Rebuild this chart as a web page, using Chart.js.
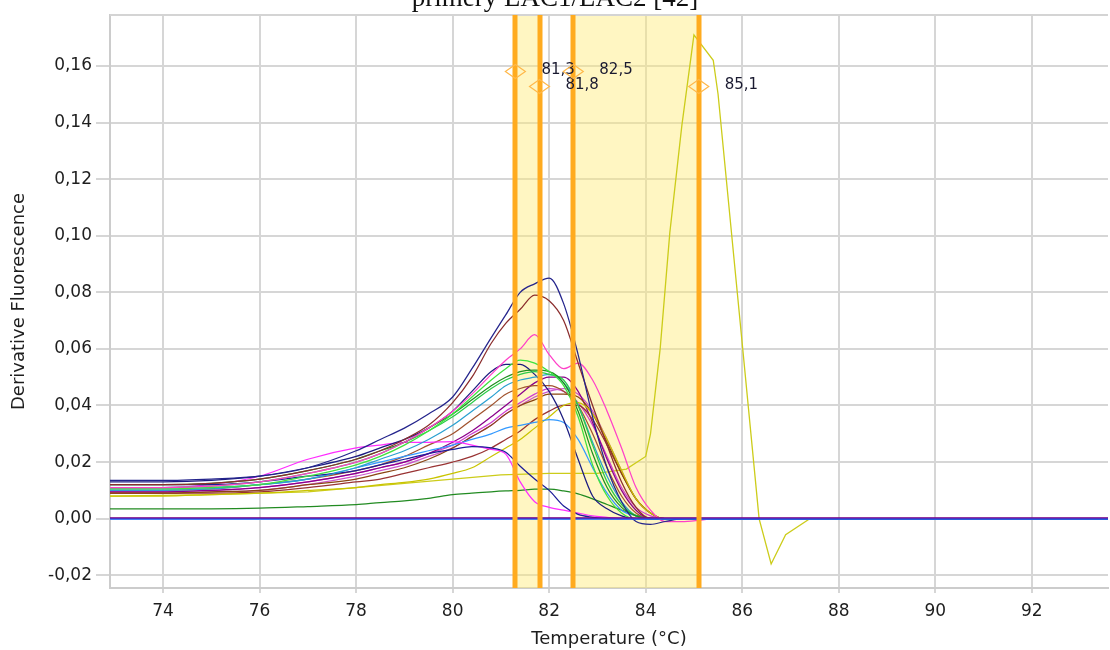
<!DOCTYPE html>
<html>
<head>
<meta charset="utf-8">
<script src="https://cdn.jsdelivr.net/npm/chart.js@4.4.1/dist/chart.umd.min.js"></script>
<style>
  html, body { margin: 0; padding: 0; background: #ffffff; }
  #wrap { width: 1110px; height: 650px; position: relative; }
</style>
</head>
<body>
<div id="wrap"><canvas id="c" width="1110" height="650"></canvas></div>
<script>
// ---------------- DATA ----------------
const chartTitle = "primery LAC1/LAC2 [42]";
const xTitle = "Temperature (°C)";
const yTitle = "Derivative Fluorescence";
const xTicks = [74, 76, 78, 80, 82, 84, 86, 88, 90, 92];
const yTicks = [-0.02, 0, 0.02, 0.04, 0.06, 0.08, 0.10, 0.12, 0.14, 0.16];

const temps = [72.9, 74, 75, 76, 77, 78, 78.5, 79, 79.5, 80, 80.4, 80.8, 81.1, 81.4, 81.7, 82.0, 82.3, 82.6, 82.9, 83.2, 83.5, 83.8, 84.1, 84.4, 84.8, 85.5, 87, 89, 91, 93.6];

const purpleZero = [0.0003,0.0003,0.0003,0.0003,0.0003,0.0003,0.0003,0.0003,0.0003,0.0003,0.0003,0.0003,0.0003,0.0003,0.0003,0.0003,0.0003,0.0003,0.0003,0.0003,0.0003,0.0003,0.0003,0.0003,0.0003,0.0003,0.0003,0.0003,0.0003,0.0003];
const blueZero   = [0,0,0,0,0,0,0,0,0,0,0,0,0,0,0,0,0,0,0,0,0,0,0,0,0,0,0,0,0,0];
const navyTall   = [0.0135,0.0135,0.014,0.015,0.018,0.024,0.028,0.032,0.037,0.043,0.053,0.064,0.072,0.080,0.083,0.085,0.076,0.058,0.036,0.018,0.006,-0.001,-0.002,-0.001,0,0,0,0,0,0];
const brownTall  = [0.012,0.012,0.0125,0.014,0.017,0.021,0.024,0.028,0.033,0.041,0.050,0.062,0.069,0.074,0.079,0.077,0.070,0.055,0.040,0.026,0.013,0.004,0,0,0,0,0,0,0,0];
const pinkTall   = [0.011,0.011,0.0115,0.013,0.016,0.020,0.023,0.027,0.032,0.038,0.044,0.051,0.056,0.060,0.065,0.058,0.053,0.055,0.049,0.038,0.025,0.011,0.003,-0.001,-0.001,0,0,0,0,0];
const limeGreen  = [0.0105,0.0105,0.011,0.012,0.015,0.019,0.022,0.026,0.031,0.037,0.043,0.049,0.053,0.056,0.055,0.052,0.047,0.036,0.019,0.008,0.002,0,0,0,0,0,0,0,0,0];
const greenA     = [0.012,0.012,0.0125,0.014,0.017,0.021,0.024,0.027,0.032,0.037,0.042,0.047,0.050,0.052,0.0525,0.052,0.048,0.038,0.023,0.011,0.004,0.001,0,0,0,0,0,0,0,0];
const greenB     = [0.011,0.011,0.0115,0.013,0.016,0.020,0.023,0.027,0.031,0.036,0.041,0.046,0.049,0.051,0.052,0.051,0.049,0.040,0.026,0.013,0.005,0.001,0,0,0,0,0,0,0,0];
const tealBlue   = [0.010,0.010,0.0105,0.012,0.014,0.018,0.021,0.024,0.028,0.033,0.038,0.043,0.047,0.049,0.050,0.051,0.048,0.040,0.027,0.015,0.006,0.001,0,0,0,0,0,0,0,0];
const navyMid    = [0.013,0.013,0.0135,0.015,0.018,0.022,0.025,0.028,0.032,0.038,0.045,0.052,0.0545,0.0545,0.051,0.045,0.035,0.021,0.008,0.0035,0.001,0,0,0,0,0,0,0,0,0];
const navyLow    = [0.012,0.012,0.012,0.013,0.015,0.017,0.019,0.021,0.023,0.0245,0.0255,0.025,0.0235,0.0185,0.014,0.010,0.0045,0.0015,0.0005,0,0,0,0,0,0,0,0,0,0,0];
const magentaLow = [0.011,0.011,0.012,0.015,0.021,0.025,0.026,0.027,0.027,0.0272,0.026,0.0245,0.0228,0.013,0.006,0.004,0.003,0.002,0.001,0.0005,0,0,0,0,0,0,0,0,0,0];
const skyBlue    = [0.0105,0.0105,0.011,0.012,0.014,0.018,0.020,0.022,0.024,0.026,0.028,0.030,0.032,0.033,0.034,0.035,0.034,0.028,0.018,0.009,0.003,0.001,0,0,0,0,0,0,0,0];
const oliveRise  = [0.008,0.008,0.0085,0.009,0.010,0.011,0.012,0.0128,0.014,0.016,0.018,0.022,0.025,0.028,0.032,0.036,0.040,0.041,0.037,0.028,0.017,0.007,0.002,0,0,0,0,0,0,0];
const siennaMid  = [0.010,0.010,0.0105,0.012,0.014,0.017,0.019,0.022,0.026,0.030,0.035,0.040,0.044,0.046,0.047,0.047,0.045,0.040,0.030,0.018,0.008,0.002,0,0,0,0,0,0,0,0];
const brownLate  = [0.009,0.009,0.0095,0.010,0.012,0.014,0.016,0.018,0.021,0.025,0.029,0.033,0.037,0.040,0.042,0.044,0.044,0.043,0.037,0.027,0.016,0.007,0.002,0,0,0,0,0,0,0];
const brownLow   = [0.009,0.009,0.009,0.0095,0.011,0.013,0.014,0.016,0.018,0.020,0.022,0.025,0.028,0.031,0.035,0.038,0.040,0.040,0.035,0.026,0.016,0.007,0.002,0,0,0,0,0,0,0];
const purpleMid  = [0.0095,0.0095,0.010,0.011,0.013,0.016,0.018,0.020,0.023,0.027,0.031,0.036,0.040,0.044,0.048,0.050,0.050,0.045,0.034,0.021,0.010,0.003,0,0,0,0,0,0,0,0];
const orchidMid  = [0.009,0.009,0.0095,0.010,0.012,0.015,0.017,0.019,0.022,0.025,0.029,0.033,0.037,0.040,0.043,0.045,0.046,0.044,0.038,0.028,0.017,0.007,0.002,0,0,0,0,0,0,0];
const violetMid  = [0.0095,0.0095,0.010,0.011,0.013,0.016,0.018,0.020,0.023,0.026,0.030,0.034,0.038,0.041,0.044,0.046,0.045,0.041,0.033,0.022,0.011,0.004,0.001,0,0,0,0,0,0,0];
const greenLow   = [0.0035,0.0035,0.0035,0.0037,0.0043,0.005,0.0057,0.0063,0.0072,0.0085,0.009,0.0095,0.0098,0.010,0.0104,0.0104,0.0098,0.0088,0.007,0.005,0.003,0.0012,0.0003,0,0,0,0,0,0,0];

// the single tall yellow product peak (own temperature grid)
const peakTemps = [72.9, 75, 77, 78, 79, 80, 81, 82, 83, 83.6, 84.0, 84.1, 84.3, 84.5, 84.75, 85.0, 85.4, 85.5, 86.0, 86.35, 86.6, 86.9, 87.4];
const peakVals  = [0.008,0.0085,0.0095,0.011,0.0125,0.014,0.0155,0.016,0.016,0.0175,0.022,0.030,0.060,0.101,0.139,0.171,0.162,0.150,0.062,0.000,-0.016,-0.0057,0];

// Tm markers (temperature, marker level)
const markerTemps  = [81.3, 81.8, 82.5, 85.1];
const markerLevels = [0.158, 0.1527, 0.158, 0.1527];

// ---------------- STYLE ----------------
const seriesDefs = [
  [purpleZero, '#800080'],
  [blueZero,   '#1460ff'],
  [navyTall,   '#24248c'],
  [brownTall,  '#8b2d2d'],
  [pinkTall,   '#ff40c8'],
  [limeGreen,  '#3ee23e'],
  [greenA,     '#1f8f1f'],
  [greenB,     '#2ccc48'],
  [tealBlue,   '#2aa0d0'],
  [navyMid,    '#1c1c80'],
  [navyLow,    '#1c1c9a'],
  [magentaLow, '#ff2cff'],
  [skyBlue,    '#3399ff'],
  [oliveRise,  '#c9c400'],
  [siennaMid,  '#a0522d'],
  [brownLate,  '#8b4513'],
  [brownLow,   '#993333'],
  [purpleMid,  '#8b008b'],
  [orchidMid,  '#cc55cc'],
  [violetMid,  '#d040d0'],
  [greenLow,   '#228b22']
];

const datasets = seriesDefs.map(([vals, col]) => ({
  data: temps.map((t, i) => ({ x: t, y: vals[i] })),
  borderColor: col,
  borderWidth: (vals === blueZero) ? 2 : 1.25,
  pointRadius: 0,
  fill: false,
  cubicInterpolationMode: 'monotone',
  tension: 0.4
}));
datasets.push({
  data: peakTemps.map((t, i) => ({ x: t, y: peakVals[i] })),
  borderColor: '#cccc1a',
  borderWidth: 1.3,
  pointRadius: 0,
  fill: false,
  tension: 0
});

const fontFam = '"DejaVu Sans", Verdana, sans-serif';
const fmtTemp = v => v.toFixed(1).replace('.', ',');

const meltPlugin = {
  id: 'meltMarkers',
  beforeDatasetsDraw(chart) {
    const { ctx, chartArea: a, scales: { x } } = chart;
    ctx.save();
    ctx.fillStyle = 'rgba(255,235,120,0.45)';
    for (let i = 0; i + 1 < markerTemps.length; i += 2) {
      const x0 = x.getPixelForValue(markerTemps[i]);
      const x1 = x.getPixelForValue(markerTemps[i + 1]);
      ctx.fillRect(x0, a.top, x1 - x0, a.bottom - a.top);
    }
    ctx.restore();
  },
  afterDatasetsDraw(chart) {
    const { ctx, chartArea: a, scales: { x, y } } = chart;
    ctx.save();
    // top frame line
    ctx.strokeStyle = '#d4d4d4';
    ctx.lineWidth = 2;
    ctx.beginPath(); ctx.moveTo(a.left, a.top); ctx.lineTo(a.right, a.top); ctx.stroke();
    // orange Tm lines
    ctx.strokeStyle = '#ffab1f';
    ctx.lineWidth = 5;
    markerTemps.forEach(t => {
      const px = Math.round(x.getPixelForValue(t));
      ctx.beginPath(); ctx.moveTo(px, a.top); ctx.lineTo(px, a.bottom); ctx.stroke();
    });
    // diamonds + labels
    ctx.font = '15px ' + fontFam;
    ctx.textBaseline = 'middle';
    ctx.textAlign = 'left';
    markerTemps.forEach((t, i) => {
      const px = x.getPixelForValue(t);
      const py = y.getPixelForValue(markerLevels[i]);
      ctx.strokeStyle = '#ffb84a';
      ctx.lineWidth = 1.2;
      ctx.beginPath();
      ctx.moveTo(px - 10, py); ctx.lineTo(px, py - 7); ctx.lineTo(px + 10, py); ctx.lineTo(px, py + 7); ctx.closePath();
      ctx.stroke();
      ctx.fillStyle = '#1a1a30';
      ctx.fillText(fmtTemp(t), px + 26, py - 1);
    });
    ctx.restore();
  },
  afterDraw(chart) {
    const { ctx } = chart;
    ctx.save();
    ctx.font = '27px "Liberation Serif", "Times New Roman", serif';
    ctx.fillStyle = '#111';
    ctx.textAlign = 'center';
    ctx.textBaseline = 'alphabetic';
    ctx.fillText(chartTitle, 555, 6);
    ctx.restore();
  }
};

new Chart(document.getElementById('c'), {
  type: 'line',
  data: { datasets },
  plugins: [meltPlugin],
  options: {
    responsive: false,
    animation: false,
    events: [],
    layout: { padding: { top: 15, right: 2, left: 0, bottom: 0 } },
    plugins: { legend: { display: false }, tooltip: { enabled: false }, title: { display: false } },
    scales: {
      x: {
        type: 'linear',
        min: 72.9,
        max: 93.58,
        afterFit(s) { s.height = 62; },
        afterBuildTicks(s) { s.ticks = xTicks.map(v => ({ value: v })); },
        grid: { color: '#d6d6d6', lineWidth: 2, tickLength: 5, drawTicks: true },
        border: { display: true, color: '#cccccc', width: 2 },
        ticks: { font: { family: fontFam, size: 17 }, color: '#1e1e1e', padding: 8, autoSkip: false, maxRotation: 0,
                 callback: v => String(v) },
        title: { display: true, text: xTitle, font: { family: fontFam, size: 18 }, color: '#1e1e1e', padding: { top: 0, bottom: 0 } }
      },
      y: {
        type: 'linear',
        min: -0.0245,
        max: 0.178,
        afterFit(s) { s.width = 110; },
        afterBuildTicks(s) { s.ticks = yTicks.map(v => ({ value: v })); },
        grid: { color: '#d6d6d6', lineWidth: 2, tickLength: 14, drawTicks: true },
        border: { display: true, color: '#cccccc', width: 2 },
        ticks: { font: { family: fontFam, size: 17 }, color: '#1e1e1e', padding: 4, autoSkip: false,
                 callback: v => (Math.abs(v) < 1e-9 ? 0 : v).toFixed(2).replace('.', ',') },
        title: { display: true, text: yTitle, font: { family: fontFam, size: 18 }, color: '#1e1e1e', padding: { top: 9, bottom: 0 } }
      }
    }
  }
});
</script>
</body>
</html>
